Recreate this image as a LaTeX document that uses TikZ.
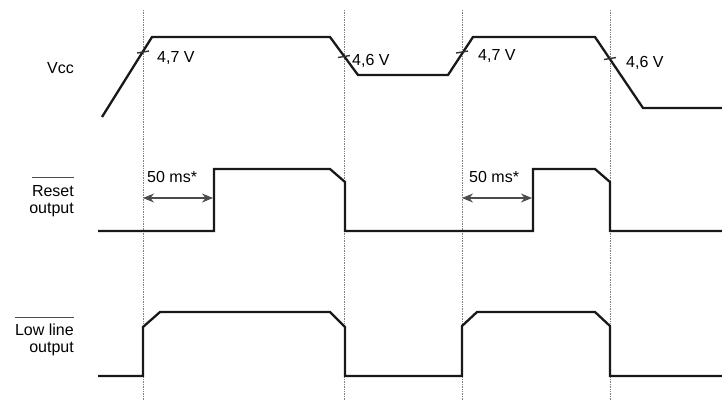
\documentclass[tikz,border=0pt]{standalone}
\usepackage{fontspec}
\setmainfont{Liberation Sans}
\usetikzlibrary{arrows.meta}
\begin{document}
\begin{tikzpicture}[x=1pt,y=-1pt,
  wave/.style={line width=2.3pt, line join=miter, black!90},
  guide/.style={line width=0.7pt, densely dotted, black!50},
  tickmark/.style={line width=1.4pt, black!80},
  lbl/.style={font=\fontsize{16}{19}\selectfont, inner sep=0pt},
  dim/.style={line width=1.1pt, black!70, {Stealth[length=11pt,width=9pt]}-{Stealth[length=11pt,width=9pt]}},
  bar/.style={line width=1.5pt, black!70}]
\useasboundingbox (0,0) rectangle (722,400);
% guide lines
\foreach \gx/\gn in {143/g1,344/g2,462/g3,610/g4}{
  \coordinate (\gn t) at (\gx,10);
  \coordinate (\gn b) at (\gx,400);
  \draw[guide] (\gn t) -- (\gn b);
}
% labels
\node[lbl, anchor=base east] (vcc) at (74,73) {Vcc};
\node[lbl, anchor=base east] (rst1) at (74,196) {Reset};
\node[lbl, anchor=base east] (rst2) at (74,213) {output};
\node[lbl, anchor=base east] (low1) at (74,335) {Low line};
\node[lbl, anchor=base east] (low2) at (74,352) {output};
\draw[bar] ([yshift=7.5pt]rst1.north west) -- ([yshift=7.5pt]rst1.north east);
\draw[bar] ([yshift=5.5pt]low1.north west) -- ([yshift=5.5pt]low1.north east);
% Vcc waveform
\draw[wave] (102,117) -- (152,37) -- (330,37) -- (358,75) -- (448,75) -- (473,37) -- (595,37) -- (643,108) -- (722,108);
% crossing ticks
\draw[tickmark] (137,53) -- (149,51);
\draw[tickmark] (338,57.5) -- (350,55.5);
\draw[tickmark] (456,53) -- (468,51);
\draw[tickmark] (604,59.5) -- (616,57.5);
\node[lbl, anchor=base west] (v1) at (157,62) {4,7 V};
\node[lbl, anchor=base west] (v2) at (352,65) {4,6 V};
\node[lbl, anchor=base west] (v3) at (478,60) {4,7 V};
\node[lbl, anchor=base west] (v4) at (626,67) {4,6 V};
% Reset waveform
\draw[wave] (98,231) -- (214,231) -- (214,169) -- (330,169) -- (345,182) -- (345,231) -- (533,231) -- (533,169) -- (595,169) -- (610,182) -- (610,231) -- (722,231);
\coordinate (a1s) at (143,198);
\coordinate (a1e) at (213,198);
\coordinate (a2s) at (462,198);
\coordinate (a2e) at (532,198);
\draw[dim] (a1s) -- (a1e);
\draw[dim] (a2s) -- (a2e);
\node[lbl, anchor=base west] (t1) at (147,182) {50 ms*};
\node[lbl, anchor=base west] (t2) at (469,182) {50 ms*};
% Low line waveform
\draw[wave] (98,376) -- (143,376) -- (143,327) -- (160,312) -- (330,312) -- (345,327) -- (345,376) -- (462,376) -- (462,326) -- (477,312) -- (595,312) -- (610,326) -- (610,376) -- (722,376);
\end{tikzpicture}
\end{document}
